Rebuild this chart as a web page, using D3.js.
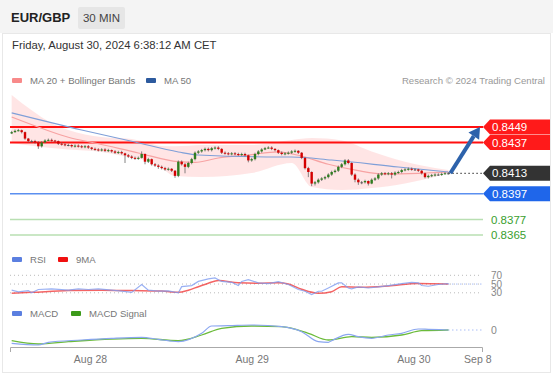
<!DOCTYPE html>
<html>
<head>
<meta charset="utf-8">
<script src="https://cdn.jsdelivr.net/npm/d3@7"></script>
<style>
  body { margin: 0; background: #fff; font-family: "Liberation Sans", Arial, sans-serif; }
</style>
</head>
<body>
<div id="chart"></div>
<script>
const ancho = 553;
const alto = 375;

// precios en pips sobre 0.8400, velas de 30 min (indice de barra)
const aperturaInicial = 44;
const cierres = [45,46,46.5,45,40,38,38,37,34,37, 38.5,39,38.5,38,36,35.5,35,35,34,34.5,
  34,33.5,34,33,32,31.5,31,31.5,30.5,31, 30,29,29.5,28.5,27,26,25,24.5,25,28,
  22,24,20,19,18,17,16,16.5,15,11, 22,20,18,21,24,29,30,31,32,31,
  32.5,33,32,29,28.5,28,28.5,28,27.5,28, 27,23,24,28,30,31.5,32.5,33,32,31,
  29,28,28.5,29,30,30.5,29,25,17,14, 5,6,8,9,10,12,14,15,18,20,
  23,21,12,8,6,6,7,5,8,9, 12,13,12.5,13,12,13.5,14,15.5,16,16.5,
  16,16,15,13,10,11,11.5,12,12,12.5, 13,13];
const maximos = [46,47,47.5,47,45.5,40.5,39,39,38,38, 39.5,40,40,39,38.5,37,36.5,36,35.5,35.5,
  35.5,35,35,35,33.5,33,32.5,32.5,32.5,32, 31.5,31,30.5,30.5,29,28,27,26,26,30,
  28.5,25,24.5,21,20,19,18,17.5,17,15.5, 23,23,21,22,25,30,31,32,33,33,
  33.5,34,34,32.5,30,29.5,29.5,29.5,29,29, 29,27.5,25,29,31,32.5,33.5,34,34,32.5,
  31.5,30,29.5,30,31,31.5,31,29.5,25.5,18, 14.5,7,9,10,11,13,15,16,19,21,
  24,24,21.5,13,9,7,8,7.5,9,10, 13,14,14,14,14,14.5,15,16.5,17,17.5,
  17.5,17,16.5,15.5,13.5,12,12.5,13,13,13.5, 14,14];
const minimos = [43.5,44.5,45.5,44,39,37,37,36,32,33, 36.5,38,37.5,37,35,34.5,34,34,33,33,
  33,32.5,32.5,32,31,30.5,30,30,29.5,29.5, 29,28,28,27.5,21,25,24,23.5,23.5,24.5,
  20,21,19,18,16.5,16,15,15,14,9.5, 10,19,13,17,20,23,28,29,30,30,
  30,31.5,31,28,27.5,27,27,27,26.5,26.5, 26,21.5,22,23,27,29,31,32,31,30,
  28,27,27,27.5,28,29,28,24,16,10, 3,3.5,5,7,8,9,11,13,14,17,
  19,20,11,6,4,4.5,5,3.5,4.5,7, 8,11,11.5,11.5,9,11,12.5,13,14.5,15,
  15,15,14,12,9,9,10,10.5,11,11, 12,12];

// medias moviles y bandas (indice de barra, pips)
const ma50Idx = [0,21,37,50,56,80,84,96,116,131];
const ma50Val = [60,46.7,37.3,29.6,27.2,25.7,25.7,23.3,17.9,14];
const ma20Idx = [0,9,17,26,38,50,55,62,71,80,86,95,104,112,122,131];
const ma20Val = [56.8,48,41,36,28.8,22,21.5,24.9,27.2,29.6,27,20,15,12.5,13,14];
const bandaIdx = [0,6,12,17,27,36,42,45,49,57,72,84,90,99,108,113,123,131];
const bandaSup = [73.9,62,52,46.7,41.2,39.7,36,34.2,34,35,35,38.9,40.4,38.5,30,25.7,19,15.6];
const bandaInf = [36.6,34.5,32.7,31.5,29.6,25,21.8,17,10.9,10.1,13.2,21,2.3,0,1.6,3,7.8,13.2];

// niveles
const nivelesRojos = [0.8449, 0.8437];
const nivelAzul = 0.8397;
const nivelesVerdes = [0.8377, 0.8365];
const ultimoPrecio = 0.8413;

// RSI y su media de 9
const rsiIdx = [0,2,5,6,8,12,17,20,23,26,30,33,36,39,41,44,47,50,51,54,56,59,61,63,66,68,69,71,74,77,
  80,83,86,88,90,92,93,95,98,99,101,102,104,107,110,113,117,120,122,123,125,128,131];
const rsiVal = [36,32,35,30,37.5,39,36,39,37.5,39,36,34,31,49,36,34,34.5,30,44,46.5,56,61.8,64,56,54,46.6,56,60,52.7,51,
  55.7,49,37.5,33.6,26,33.6,33.6,41,52.7,52.7,41,39,43.6,41,43.6,46.6,51,54,52.7,46.6,45,49,51];
const ma9Idx = [0,6,17,27,36,45,50,53,56,59,62,68,74,80,83,87,92,96,99,105,113,122,131];
const ma9Val = [29,31,35,36,35,34,31,36,44,52,58,53,52,53,50,38,29,32.5,44,42.5,45.5,51.5,50];
const rsiTicks = [70, 50, 30];

// MACD (x 1e-5)
const macdIdx = [0,8,11,21,30,39,44,50,57,60,65,72,81,87,92,95,96,101,104,108,113,117,122,125,131];
const macdVal = [-13.3,-15,-12.3,-10,-8.3,-7.3,-9.3,-11.7,-3.3,4,4.3,5,3.3,-1.7,-11.7,-12.3,-10.7,-4.3,-6.7,-8.3,-5,-3.3,1,0.7,0];
const senalIdx = [0,8,17,30,39,50,57,63,72,81,89,95,102,108,117,123,131];
const senalVal = [-10.7,-14,-11.7,-9,-8.3,-10.7,-5,1.7,4,3.3,-3.3,-10,-6.7,-7.3,-5,-0.7,0];

// eje temporal
const fechas = ["Aug 28", "Aug 29", "Aug 30", "Sep 8"];
const fechasIdx = [24, 72.5, 121, 140.2];

const svg = d3.select("#chart").append("svg")
  .attr("width", ancho)
  .attr("height", alto)
  .style("font-family", "'Liberation Sans', Arial, sans-serif");

const x = d3.scaleLinear().domain([0, 141.6]).range([10, 482]);
const xb = i => x(i + 0.5);
const y = d3.scaleLinear().domain([0.8365, 0.8449]).range([235, 127]);
const yp = p => y(0.84 + p / 10000);
const yRsi = d3.scaleLinear().domain([30, 70]).range([292.8, 275.3]);
const yMacd = d3.scaleLinear().domain([-20, 10]).range([350, 320]);

// cabecera
svg.append("rect").attr("x", 0).attr("y", 0).attr("width", ancho).attr("height", 33).attr("fill", "#f4f4f4");
svg.append("rect").attr("x", 2.5).attr("y", 33.5).attr("width", 548).attr("height", 339)
  .attr("fill", "#fff").attr("stroke", "#e8e8e8");
svg.append("text").attr("x", 11).attr("y", 22).attr("font-size", 13).attr("font-weight", "bold")
  .attr("fill", "#222").text("EUR/GBP");
svg.append("rect").attr("x", 78).attr("y", 7).attr("width", 47).attr("height", 22).attr("rx", 2).attr("fill", "#e6e6e6");
svg.append("text").attr("x", 101.5).attr("y", 22).attr("text-anchor", "middle").attr("font-size", 11.5)
  .attr("fill", "#444").text("30 MIN");
svg.append("text").attr("x", 12).attr("y", 49).attr("font-size", 11.3).attr("fill", "#333")
  .text("Friday, August 30, 2024 6:38:12 AM CET");

// leyendas
function leyenda(items, yy) {
  items.forEach(it => {
    svg.append("rect").attr("x", it.x).attr("y", yy - 6).attr("width", 10).attr("height", 5)
      .attr("rx", 1).attr("fill", it.color);
    svg.append("text").attr("x", it.x + 18).attr("y", yy).attr("font-size", 9.6).attr("fill", "#777").text(it.text);
  });
}
leyenda([{ x: 12, color: "#f88a8a", text: "MA 20 + Bollinger Bands" }, { x: 146, color: "#2d5a9e", text: "MA 50" }], 84);
svg.append("text").attr("x", 545).attr("y", 84).attr("text-anchor", "end").attr("font-size", 9.6)
  .attr("fill", "#999").text("Research © 2024 Trading Central");
leyenda([{ x: 12, color: "#5b7fe0", text: "RSI" }, { x: 58, color: "#f01010", text: "9MA" }], 263);
leyenda([{ x: 12, color: "#5b7fe0", text: "MACD" }, { x: 71, color: "#3c9a1a", text: "MACD Signal" }], 317);

// bandas de Bollinger
const banda = bandaIdx.map((b, k) => ({ i: b, s: bandaSup[k], l: bandaInf[k] }));
svg.append("path").datum(banda)
  .attr("fill", "#ffe1e1").attr("opacity", 0.85)
  .attr("d", d3.area().curve(d3.curveMonotoneX).x(d => xb(d.i)).y0(d => yp(d.l)).y1(d => yp(d.s)));

// niveles horizontales
const finLineas = 483;
nivelesVerdes.forEach(v => {
  svg.append("line").attr("x1", 10).attr("x2", finLineas).attr("y1", y(v)).attr("y2", y(v))
    .attr("stroke", "#b9dfb2").attr("stroke-width", 1.5);
  svg.append("text").attr("x", 491).attr("y", y(v)).attr("dy", "0.35em").attr("font-size", 11.5)
    .attr("fill", "#3aa02e").text(v.toFixed(4));
});
svg.append("line").attr("x1", 10).attr("x2", finLineas).attr("y1", y(nivelAzul)).attr("y2", y(nivelAzul))
  .attr("stroke", "#5b8ff0").attr("stroke-width", 1.5);
nivelesRojos.forEach(v => {
  svg.append("line").attr("x1", 10).attr("x2", finLineas).attr("y1", y(v)).attr("y2", y(v))
    .attr("stroke", "#ff1010").attr("stroke-width", 2);
});

// medias
const linea = d3.line().curve(d3.curveMonotoneX).x(d => xb(d[0])).y(d => yp(d[1]));
svg.append("path").datum(ma20Idx.map((b, k) => [b, ma20Val[k]]))
  .attr("fill", "none").attr("stroke", "#f7a3a3").attr("stroke-width", 1.2).attr("d", linea);
svg.append("path").datum(ma50Idx.map((b, k) => [b, ma50Val[k]]))
  .attr("fill", "none").attr("stroke", "#7f9fd8").attr("stroke-width", 1.1).attr("d", linea);

// velas
const velas = cierres.map((c, i) => ({
  i, o: i === 0 ? aperturaInicial : cierres[i - 1], c, h: maximos[i], l: minimos[i]
}));
const g = svg.append("g");
g.selectAll(".wick").data(velas).enter().append("line")
  .attr("x1", d => xb(d.i)).attr("x2", d => xb(d.i))
  .attr("y1", d => yp(d.h)).attr("y2", d => yp(d.l))
  .attr("stroke", "#666").attr("stroke-width", 0.8);
g.selectAll(".body").data(velas).enter().append("rect")
  .attr("x", d => xb(d.i) - 1.2).attr("width", 2.4)
  .attr("y", d => yp(Math.max(d.o, d.c)))
  .attr("height", d => Math.max(1, Math.abs(yp(d.o) - yp(d.c))))
  .attr("fill", d => d.c > d.o ? "#2f7d1f" : d.c < d.o ? "#d40000" : "#555");

// ultimo precio punteado
const ultimaX = xb(cierres.length - 1);
svg.append("line").attr("x1", ultimaX).attr("x2", finLineas).attr("y1", y(ultimoPrecio)).attr("y2", y(ultimoPrecio))
  .attr("stroke", "#555").attr("stroke-width", 1.3).attr("stroke-dasharray", "1.5,2.5");

// flecha de prevision
const flechaFin = [x(141), y(nivelesRojos[0])];
const ang = Math.atan2(flechaFin[1] - y(ultimoPrecio), flechaFin[0] - ultimaX);
const cuerpoFin = [flechaFin[0] - 11 * Math.cos(ang), flechaFin[1] - 11 * Math.sin(ang)];
svg.append("line").attr("x1", ultimaX + 2).attr("y1", y(ultimoPrecio)).attr("x2", cuerpoFin[0]).attr("y2", cuerpoFin[1])
  .attr("stroke", "#2d62ab").attr("stroke-width", 4);
const px = -Math.sin(ang), py = Math.cos(ang);
svg.append("path")
  .attr("d", `M${flechaFin[0]},${flechaFin[1]} L${cuerpoFin[0] + 6.5 * px},${cuerpoFin[1] + 6.5 * py} L${cuerpoFin[0] - 6.5 * px},${cuerpoFin[1] - 6.5 * py} Z`)
  .attr("fill", "#2d62ab");

// etiquetas de precio
function etiqueta(v, color) {
  const cy = y(v);
  svg.append("path")
    .attr("d", `M483,${cy} L490,${cy - 7.5} L550,${cy - 7.5} L550,${cy + 7.5} L490,${cy + 7.5} Z`)
    .attr("fill", color);
  svg.append("text").attr("x", 492).attr("y", cy).attr("dy", "0.36em").attr("font-size", 11.5)
    .attr("fill", "#fff").text(v.toFixed(4));
}
etiqueta(nivelesRojos[0], "#ff1a1a");
etiqueta(nivelesRojos[1], "#ff1a1a");
etiqueta(ultimoPrecio, "#333");
etiqueta(nivelAzul, "#1f66ea");

// panel RSI
rsiTicks.forEach(t => {
  svg.append("line").attr("x1", 10).attr("x2", 482).attr("y1", yRsi(t)).attr("y2", yRsi(t))
    .attr("stroke", "#bbb").attr("stroke-dasharray", "1,3");
  svg.append("text").attr("x", 491).attr("y", yRsi(t)).attr("dy", "0.35em").attr("font-size", 10)
    .attr("fill", "#888").text(t);
});
const lineaRsi = d3.line().x(d => xb(d[0])).y(d => yRsi(d[1]));
const lineaRsiSuave = d3.line().curve(d3.curveMonotoneX).x(d => xb(d[0])).y(d => yRsi(d[1]));
svg.append("path").datum(ma9Idx.map((b, k) => [b, ma9Val[k]]))
  .attr("fill", "none").attr("stroke", "#f03030").attr("stroke-opacity", 0.75).attr("stroke-width", 1.5).attr("d", lineaRsiSuave);
svg.append("path").datum(rsiIdx.map((b, k) => [b, rsiVal[k]]))
  .attr("fill", "none").attr("stroke", "#7f9cf0").attr("stroke-opacity", 0.8).attr("stroke-width", 1.2).attr("d", lineaRsi);
svg.append("line").attr("x1", ultimaX).attr("x2", 482).attr("y1", yRsi(50)).attr("y2", yRsi(50))
  .attr("stroke", "#7f9cf0").attr("stroke-dasharray", "1,3");

// panel MACD
svg.append("line").attr("x1", ultimaX).attr("x2", 482).attr("y1", yMacd(0)).attr("y2", yMacd(0))
  .attr("stroke", "#7f9cf0").attr("stroke-dasharray", "1,3");
svg.append("text").attr("x", 491).attr("y", yMacd(0)).attr("dy", "0.35em").attr("font-size", 10.5)
  .attr("fill", "#888").text("0");
const lineaMacd = d3.line().curve(d3.curveMonotoneX).x(d => xb(d[0])).y(d => yMacd(d[1]));
svg.append("path").datum(senalIdx.map((b, k) => [b, senalVal[k]]))
  .attr("fill", "none").attr("stroke", "#6bbb3a").attr("stroke-width", 1.3).attr("d", lineaMacd);
svg.append("path").datum(macdIdx.map((b, k) => [b, macdVal[k]]))
  .attr("fill", "none").attr("stroke", "#8aa6f0").attr("stroke-width", 1.2).attr("d", lineaMacd);

// eje x
const ejeX = d3.axisBottom(x).tickValues(fechasIdx).tickFormat((d, k) => fechas[k]).tickSize(0).tickPadding(9);
const eje = svg.append("g").attr("transform", "translate(0,347)").call(ejeX);
eje.select(".domain").attr("stroke", "#aaa").attr("d", "M10.5,5V0.5H482.5V5");
eje.selectAll("text").attr("font-size", 10.5).attr("fill", "#777").style("font-family", "'Liberation Sans', Arial, sans-serif");
</script>
</body>
</html>
